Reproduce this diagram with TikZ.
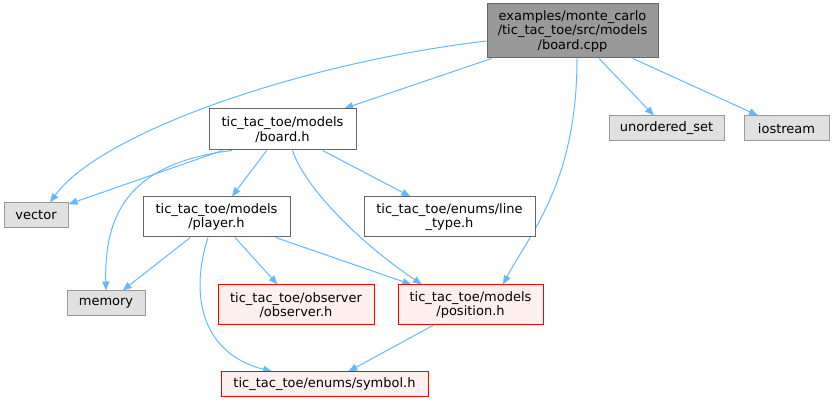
\documentclass[tikz,border=0pt]{standalone}
\usepackage{fontspec}
\setmainfont{DejaVu Sans}
\usepackage{tikz}
\usetikzlibrary{arrows.meta, positioning, backgrounds}
\definecolor{edgecolor}{HTML}{63B8FF}
\definecolor{maincolor}{HTML}{999999}
\definecolor{framecolor}{HTML}{666666}
\definecolor{extcolor}{HTML}{E0E0E0}
\definecolor{undoccolor}{HTML}{FFF0F0}

\begin{document}
\begin{tikzpicture}[x=1pt, y=1pt, font=\fontsize{13}{14.5}\selectfont,
    file/.style={rectangle, draw=framecolor, fill=white, line width=1pt, inner sep=0pt, align=center},
    mainfile/.style={file, fill=maincolor},
    extfile/.style={file, draw=maincolor, fill=extcolor, minimum height=25pt},
    undocfile/.style={file, draw=red, fill=undoccolor},
    dep/.style={-{Triangle[length=9pt, width=7pt]}, draw=edgecolor, line width=1pt}
]
\useasboundingbox (0,0) rectangle (834,403);

% Source file (top)
\node[mainfile, minimum width=171pt, minimum height=54pt] (cpp) at (572.5, 372) {examples/monte\_carlo\\/tic\_tac\_toe/src/models\\/board.cpp};

% Headers of the project
\node[file, minimum width=147pt, minimum height=41pt] (boardh) at (282.5, 273.5) {tic\_tac\_toe/models\\/board.h};
\node[file, minimum width=147pt, minimum height=40pt] (playerh) at (216.5, 186) {tic\_tac\_toe/models\\/player.h};
\node[file, minimum width=171pt, minimum height=40pt] (linetype) at (449.5, 186) {tic\_tac\_toe/enums/line\\\_type.h};

% Undocumented headers
\node[undocfile, minimum width=156pt, minimum height=40pt] (observer) at (296, 98) {tic\_tac\_toe/observer\\/observer.h};
\node[undocfile, minimum width=145pt, minimum height=40pt] (position) at (470.5, 98) {tic\_tac\_toe/models\\/position.h};
\node[undocfile, minimum width=207pt, minimum height=25pt] (symbol) at (324.5, 18.5) {tic\_tac\_toe/enums/symbol.h};

% System headers
\node[extfile, minimum width=64pt] (vector) at (36, 187.5) {vector};
\node[extfile, minimum width=78pt] (memory) at (106, 99.5) {memory};
\node[extfile, minimum width=115pt] (unordered) at (666.5, 274.5) {unordered\_set};
\node[extfile, minimum width=85pt] (iostream) at (786.5, 274.5) {iostream};

\begin{scope}[on background layer]
% Includes of board.cpp
\draw[dep] ([yshift=-10pt]cpp.west) .. controls (300,340) and (100,270) .. ([xshift=14pt]vector.north);
\draw[dep] (cpp) -- (boardh);
\draw[dep] ([xshift=4.5pt]cpp.south) .. controls (577,220) and (530,170) .. ([xshift=32.5pt]position.north);
\draw[dep] (cpp) -- (unordered);
\draw[dep] (cpp) -- (iostream);

% Includes of board.h
\draw[dep] (boardh) -- (vector);
\draw[dep] ([xshift=-50.5pt]boardh.south) .. controls (130,240) and (104,190) .. (memory.north);
\draw[dep] (boardh) -- (playerh);
\draw[dep] ([xshift=10pt]boardh.south) .. controls (305,215) and (360,160) .. ([xshift=-48.5pt]position.north);
\draw[dep] (boardh) -- (linetype);

% Includes of player.h
\draw[dep] (playerh) -- (memory);
\draw[dep] (playerh) -- (observer);
\draw[dep] (playerh) -- (position);
\draw[dep] ([xshift=-8.5pt]playerh.south) .. controls (190,110) and (200,50) .. ([xshift=-52.5pt]symbol.north);

% Includes of position.h
\draw[dep] (position) -- (symbol);
\end{scope}

\end{tikzpicture}
\end{document}
